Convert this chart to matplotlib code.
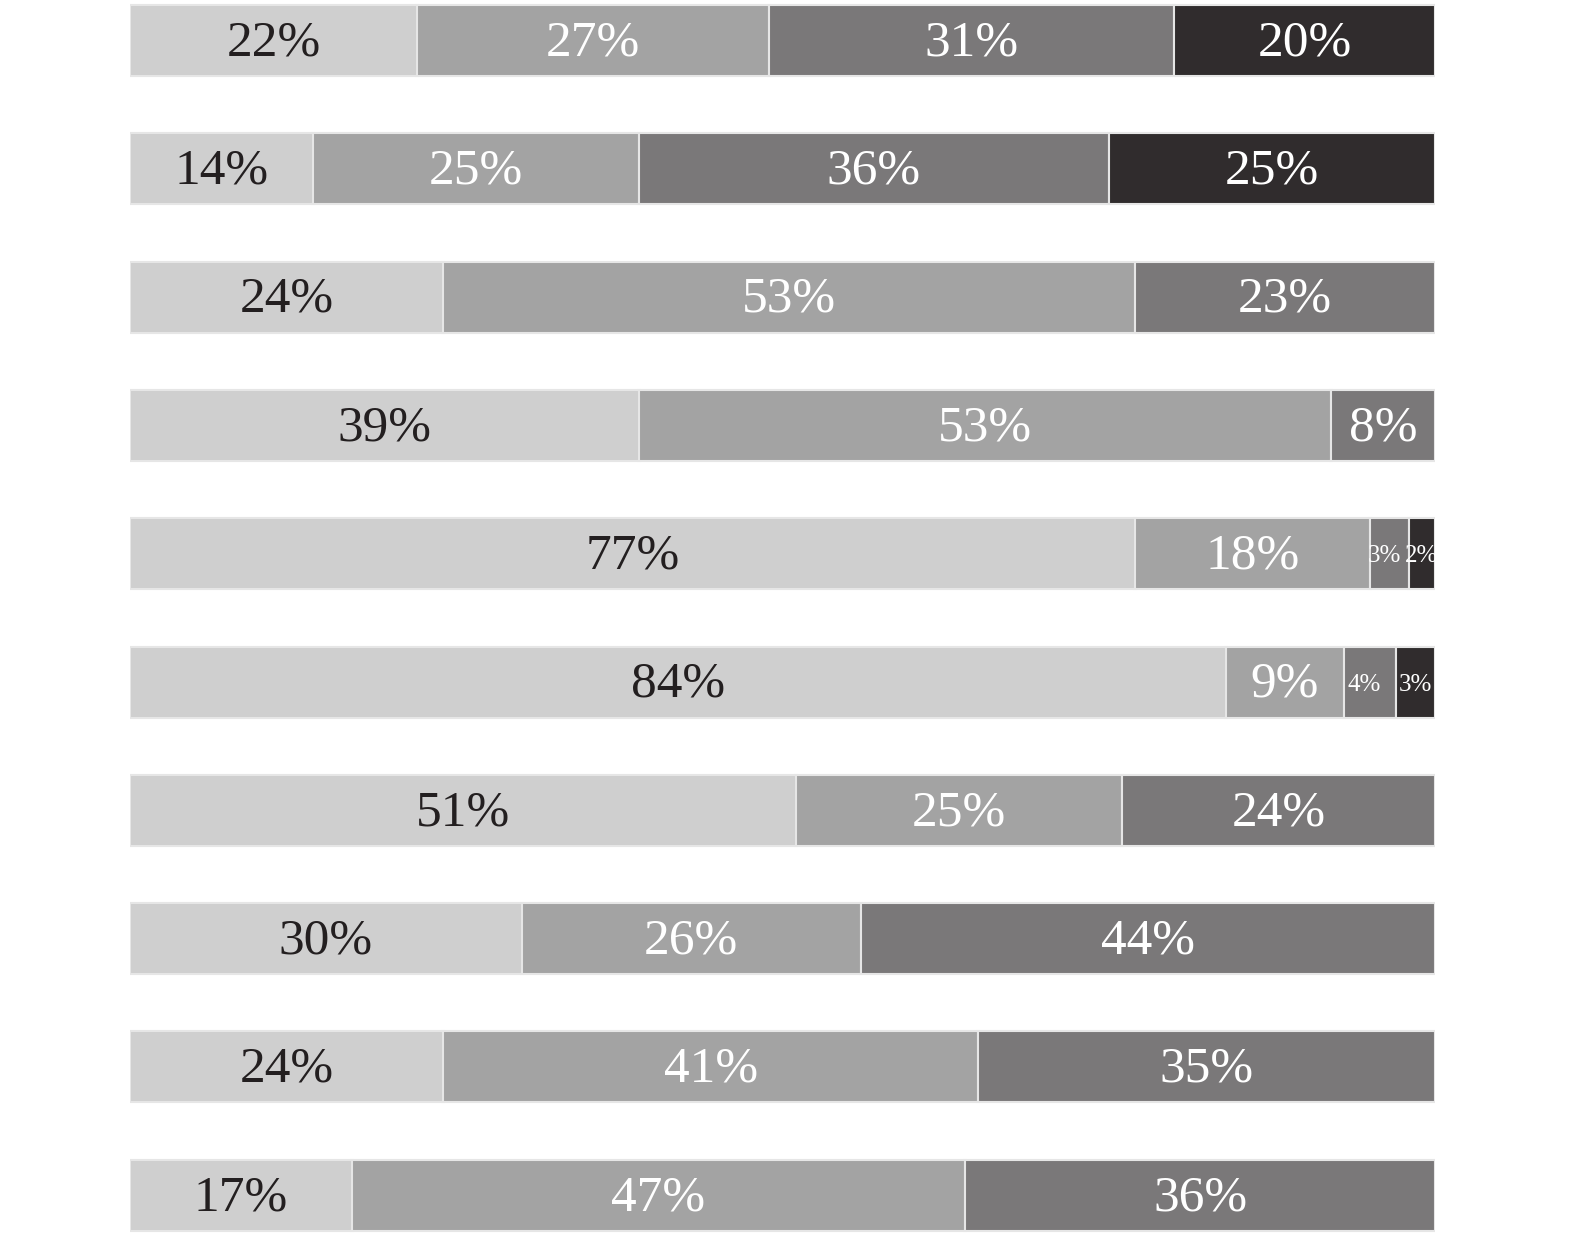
import numpy as np
import matplotlib.pyplot as plt

# share of answers per row, left to right
row1 = [22, 27, 31, 20]
row2 = [14, 25, 36, 25]
row3 = [24, 53, 23]
row4 = [39, 53, 8]
row5 = [77, 18, 3, 2]
row6 = [84, 9, 4, 3]
row7 = [51, 25, 24]
row8 = [30, 26, 44]
row9 = [24, 41, 35]
row10 = [17, 47, 36]
rows = [row1, row2, row3, row4, row5, row6, row7, row8, row9, row10]

colors = ["#cfcfcf", "#a3a3a3", "#7a7879", "#302c2d"]
text_colors = ["#231f20", "white", "white", "white"]

plt.rcParams["font.family"] = ["Liberation Serif", "DejaVu Serif"]

fig = plt.figure(figsize=(15.75, 12.5), dpi=100)
ax = fig.add_axes([130 / 1575, 0, 1305 / 1575, 1])

for i, vals in enumerate(rows):
    left = 0
    for j, v in enumerate(vals):
        ax.barh(i, v, left=left, height=0.553, color=colors[j],
                edgecolor="#e6e6e6", linewidth=1.5)
        small = v < 5
        ax.text(left + v / 2 - (0.4 if small and j == 2 else 0), i + 0.02,
                f"{v}%", ha="center", va="center",
                fontsize=18 if small else 37, color=text_colors[j])
        left += v

ax.set_xlim(0, 100)
ax.set_ylim(9.427, -0.316)
ax.axis("off")

fig.savefig("out.png", dpi=100)
